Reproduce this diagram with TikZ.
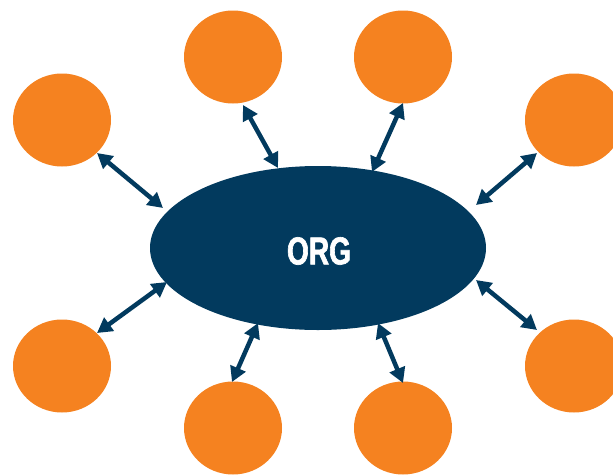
\documentclass[tikz,border=0pt]{standalone}
\usepackage{fontspec}
\newfontfamily\orgfont[FakeStretch=0.72,BoldFeatures={FakeBold=1.6}]{Liberation Sans}
\usetikzlibrary{shapes.geometric,arrows.meta}
\definecolor{navy}{HTML}{023A5E}
\definecolor{orng}{HTML}{F58220}
\begin{document}
\begin{tikzpicture}[x=1pt,y=-1pt,
  sat/.style={ellipse,fill=orng,draw=none,minimum width=98pt,minimum height=93pt,inner sep=0pt},
  link/.style={draw=navy,line width=4.5pt,{Triangle[length=15pt,width=16pt]}-{Triangle[length=15pt,width=16pt]}}]
\clip (0,0) rectangle (613,475);
\useasboundingbox (0,0) rectangle (613,475);
\node[ellipse,fill=navy,minimum width=336pt,minimum height=164pt,inner sep=0pt] (main) at (318,248) {};
\node[text=white,font=\orgfont\bfseries\fontsize{39}{40}\selectfont] (lbl) at (319,251) {ORG};
\node[sat] (c1) at (62,120) {};
\node[sat] (c2) at (233,57) {};
\node[sat] (c3) at (403,57) {};
\node[sat] (c4) at (574,120) {};
\node[sat] (c5) at (62,366) {};
\node[sat] (c6) at (233,428) {};
\node[sat] (c7) at (403,428) {};
\node[sat] (c8) at (574,366) {};
\draw[link] ([shift={(35,33)}]c1.center) -- ([shift={(-155,-40)}]main.center);
\draw[link] ([shift={(10,48)}]c2.center) -- ([shift={(-40,-80)}]main.center);
\draw[link] ([shift={(0,46)}]c3.center) -- ([shift={(54,-76)}]main.center);
\draw[link] ([shift={(-37,33)}]c4.center) -- ([shift={(158,-43)}]main.center);
\draw[link] ([shift={(35,-33)}]c5.center) -- ([shift={(-151,34)}]main.center);
\draw[link] ([shift={(-1,-46)}]c6.center) -- ([shift={(-60,75)}]main.center);
\draw[link] ([shift={(0,-45)}]c7.center) -- ([shift={(60,75)}]main.center);
\draw[link] ([shift={(-37,-36)}]c8.center) -- ([shift={(158,32)}]main.center);
\end{tikzpicture}
\end{document}
